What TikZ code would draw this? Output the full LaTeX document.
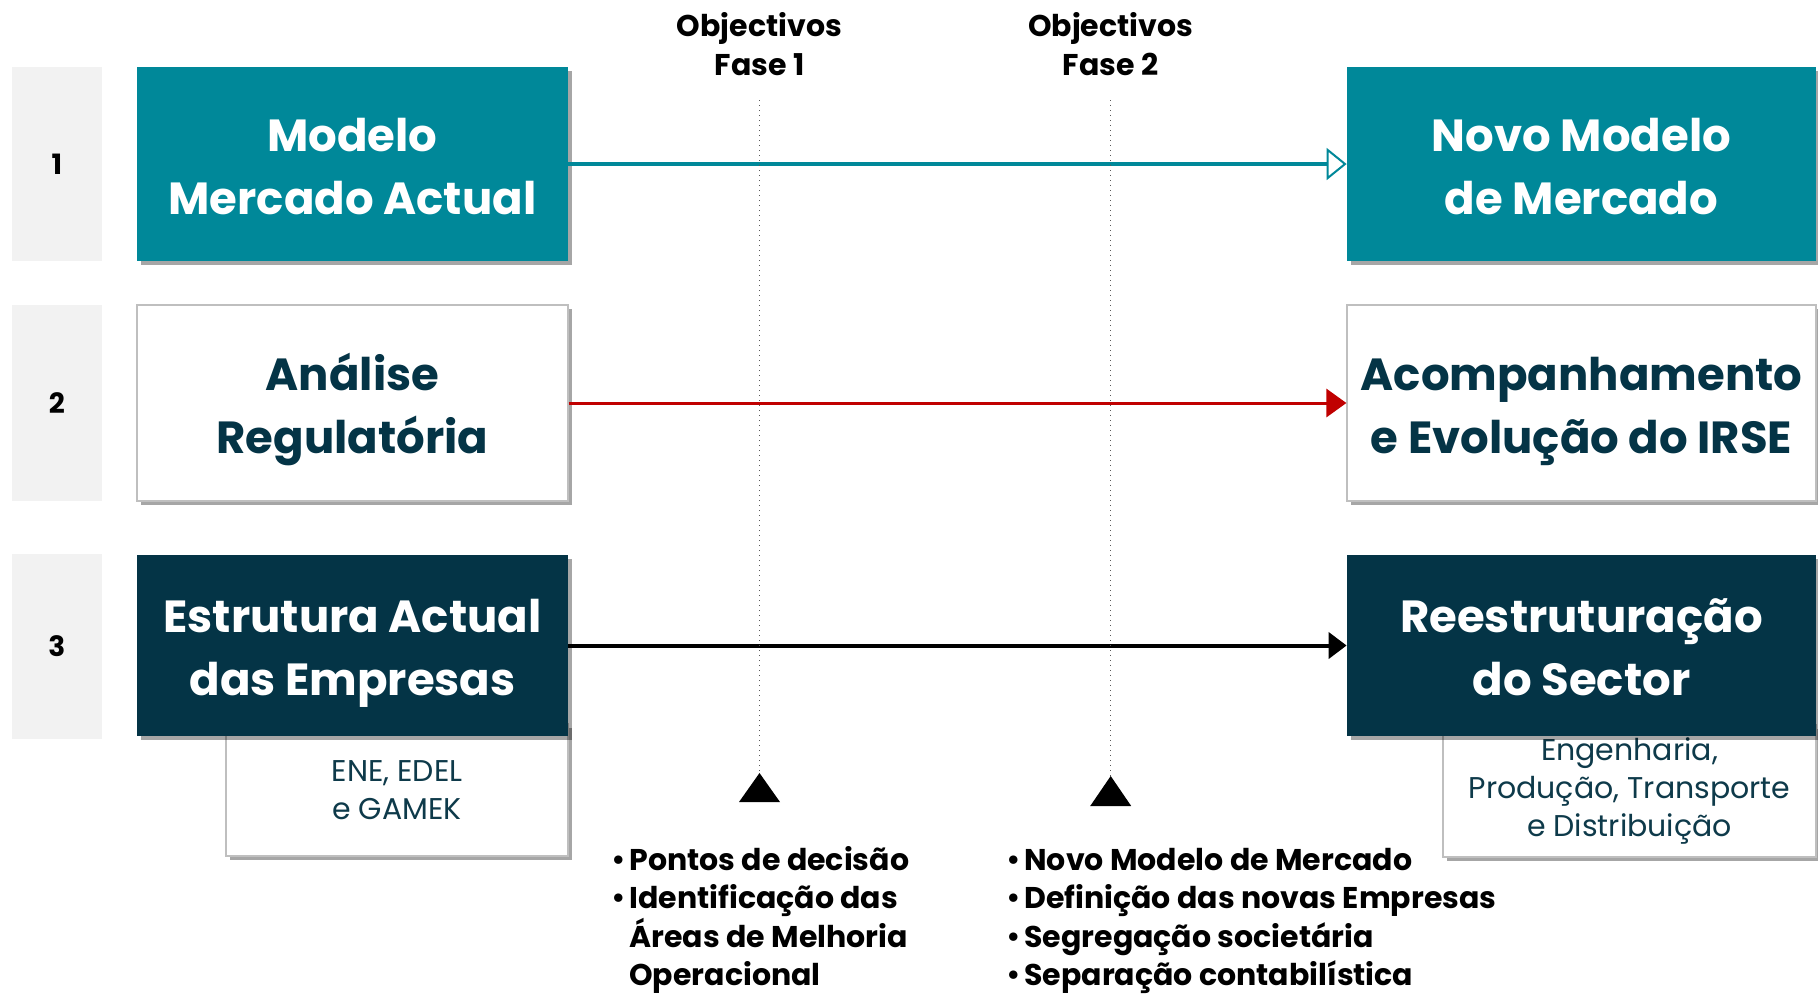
\documentclass[tikz,border=0pt]{standalone}
\usepackage{fontspec}
\setmainfont{Poppins}
\usetikzlibrary{arrows.meta,shadows}
\definecolor{teal1}{RGB}{0,136,153}
\definecolor{navy1}{RGB}{4,52,70}
\definecolor{subtxt}{RGB}{14,58,74}
\definecolor{redarr}{RGB}{192,0,0}
\definecolor{lblgray}{RGB}{242,242,242}
\definecolor{bordergray}{RGB}{191,191,191}
\newcommand\bul{\makebox[9pt][l]{\raisebox{0.6pt}{\fontsize{14}{14}\selectfont •}}}
\newcommand\tp{\rule{0pt}{27pt}}
\newcommand\bt{\rule[-8.3pt]{0pt}{8.3pt}}
\tikzset{
  shad/.style={drop shadow={shadow xshift=2pt,shadow yshift=-2pt,opacity=0.35,fill=black}},
  mainbox/.style={rectangle, inner sep=0pt, shad, align=center,
    font=\bfseries\fontsize{22.5}{31.5}\selectfont},
  leftbox/.style={mainbox, minimum width=215.5pt},
  rightbox/.style={mainbox, minimum width=234.5pt},
  lblbox/.style={rectangle, fill=lblgray, inner sep=0pt, minimum width=45.2pt,
    font=\bfseries\fontsize{14}{14}\selectfont},
  subbox/.style={rectangle, fill=white, draw=bordergray, line width=0.6pt, shad,
    inner sep=0pt, align=center, text=subtxt, minimum height=66pt,
    font=\fontsize{15}{19}\selectfont},
  hdr/.style={inner sep=0pt, align=center, font=\bfseries\fontsize{15}{19.5}\selectfont},
  blist/.style={inner sep=0pt, align=left, anchor=west, font=\bfseries\fontsize{15}{19.2}\selectfont},
  dotline/.style={dotted, line width=0.5pt, draw=gray!70!black},
  phasemark/.style={fill=black}
}
\begin{document}
\begin{tikzpicture}[x=0.5pt,y=-0.5pt]
\useasboundingbox (0,0) rectangle (1818,993);
\fill[white] (0,0) rectangle (1818,993);

% row labels
\node[lblbox, minimum height=97pt] (n1) at (56.8,164) {1};
\node[lblbox, minimum height=98pt] (n2) at (56.8,403) {2};
\node[lblbox, minimum height=92.5pt] (n3) at (56.8,646.5) {3};

% sub boxes (behind row 3 boxes)
\node[subbox, minimum width=171pt] (sL) at (397,790) {ENE, EDEL\\e GAMEK};
\node[subbox, minimum width=186.5pt] (sR) at (1629.5,791) {Engenharia,\\Produção, Transporte\\e Distribuição};

% main boxes
\node[leftbox, fill=teal1, text=white, minimum height=97pt] (L1) at (352.5,164) {\tp Modelo\\Mercado Actual\bt};
\node[rightbox, fill=teal1, text=white, minimum height=97pt] (R1) at (1581.5,164) {\tp Novo Modelo\\de Mercado\bt};
\node[leftbox, fill=white, draw=bordergray, line width=0.6pt, text=navy1, minimum height=98pt] (L2) at (352.5,403) {\tp Análise\\Regulatória\bt};
\node[rightbox, fill=white, draw=bordergray, line width=0.6pt, text=navy1, minimum height=98pt] (R2) at (1581.5,403) {\tp Acompanhamento\\e Evolução do IRSE\bt};
\node[leftbox, fill=navy1, text=white, minimum height=90.5pt] (L3) at (352.5,645.5) {\tp Estrutura Actual\\das Empresas\bt};
\node[rightbox, fill=navy1, text=white, minimum height=90.5pt] (R3) at (1581.5,645.5) {\tp Reestruturação\\do Sector\bt};

% arrows
\draw[teal1, line width=1.7pt, -{Triangle[open, length=10pt, width=16pt, line width=1pt]}] (L1) -- (R1);
\draw[redarr, line width=1.5pt, -{Triangle[length=10pt, width=14pt]}] (L2) -- (R2);
\draw[black, line width=2pt, -{Triangle[length=9pt, width=13pt]}] (L3) -- (R3);

% phase markers
\coordinate (d1) at (759.5,100);
\coordinate (t1) at (759.5,773);
\coordinate (d2) at (1110.7,100);
\coordinate (t2) at (1110.7,776);
\draw[dotline] (d1) -- (t1);
\draw[dotline] (d2) -- (t2);
\fill[phasemark] (t1) -- ++(20.5,29) -- ++(-41,0) -- cycle;
\fill[phasemark] (t2) -- ++(20.5,30) -- ++(-41,0) -- cycle;

% headers
\node[hdr] (h1) at (759.5,44) {Objectivos\\Fase 1};
\node[hdr] (h2) at (1110.7,44) {Objectivos\\Fase 2};

% bullet lists
\node[blist] (b1) at (611,920) {\bul Pontos de decisão\\\bul Identificação das\\\hspace*{9pt}Áreas de Melhoria\\\hspace*{9pt}Operacional};
\node[blist] (b2) at (1006,921) {\bul Novo Modelo de Mercado\\\bul Definição das novas Empresas\\\bul Segregação societária\\\bul Separação contabilística};
\end{tikzpicture}
\end{document}
